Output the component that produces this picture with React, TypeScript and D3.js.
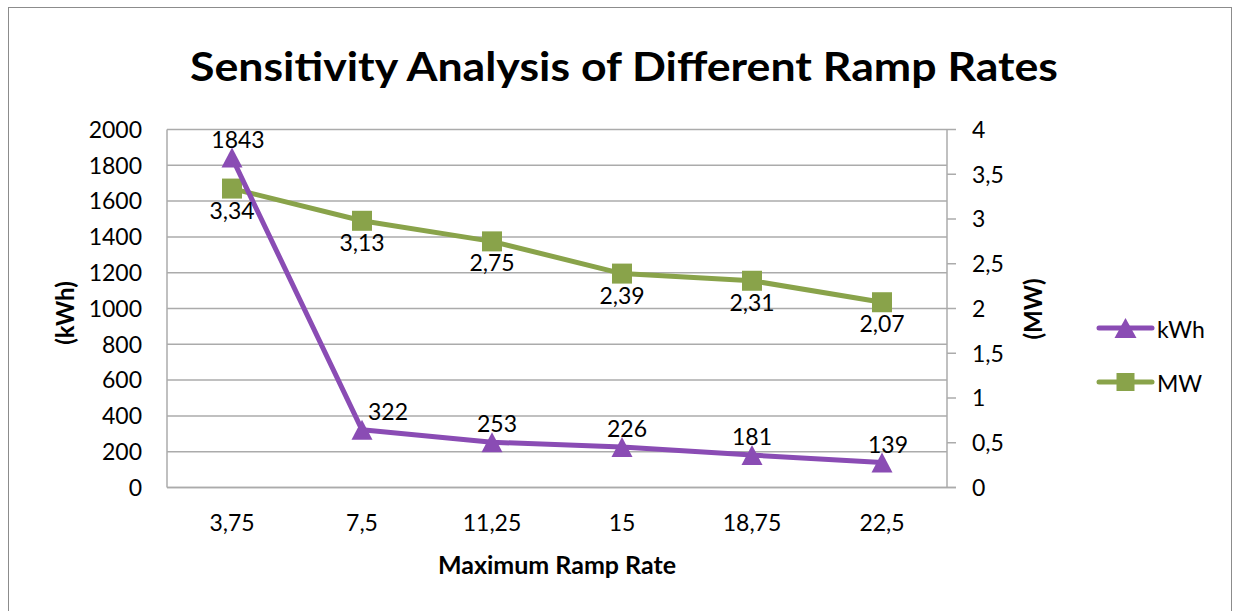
import React from "react";
import * as d3 from "d3";

const categories = ["3,75", "7,5", "11,25", "15", "18,75", "22,5"];
const kwhValues = [1843, 322, 253, 226, 181, 139];
const kwhLabels = ["1843", "322", "253", "226", "181", "139"];
const mwValues = [3.34, 2.98, 2.75, 2.39, 2.31, 2.07];
const mwLabels = ["3,34", "3,13", "2,75", "2,39", "2,31", "2,07"];
const leftTicks = [0, 200, 400, 600, 800, 1000, 1200, 1400, 1600, 1800, 2000];
const rightTicks = [0, 0.5, 1, 1.5, 2, 2.5, 3, 3.5, 4];
const kwhLabelDx = [6, 26, 5, 5, 0, 6];

const PURPLE = "#8a4cb4";
const GREEN = "#89a34a";
const GRID = "#ababab";
const FONT = "Lato, 'Open Sans', sans-serif";

export default function App() {
  const W = 1239;
  const H = 611;
  const left = 167;
  const right = 947;
  const top = 129.5;
  const bottom = 487.5;

  const x = d3.scaleBand<string>().domain(categories).range([left, right]);
  const cx = (c: string) => (x(c) as number) + x.bandwidth() / 2;
  const yL = d3.scaleLinear().domain([0, 2000]).range([bottom, top]);
  const yR = d3.scaleLinear().domain([0, 4]).range([bottom, top]);
  const fmt = (v: number) => String(v).replace(".", ",");

  const kwhLine = d3
    .line<number>()
    .x((_, i) => cx(categories[i]))
    .y((d) => yL(d))(kwhValues) as string;
  const mwLine = d3
    .line<number>()
    .x((_, i) => cx(categories[i]))
    .y((d) => yR(d))(mwValues) as string;

  const tri = (px: number, py: number, s = 10.5) =>
    `M${px},${py - 10}L${px + s},${py + 10}L${px - s},${py + 10}Z`;

  return (
    <svg
      width={W}
      height={H}
      style={{ position: "absolute", left: 0, top: 0, background: "#fff" }}
      fontFamily={FONT}
    >
      <rect x={8.5} y={7.5} width={1223} height={640} fill="#fff" stroke="#8c8c8c" strokeWidth={1} />
      <text
        x={624}
        y={81}
        textAnchor="middle"
        fontSize={41}
        fontWeight="bold"
        fill="#000"
        textLength={868}
        lengthAdjust="spacingAndGlyphs"
      >
        Sensitivity Analysis of Different Ramp Rates
      </text>

      {/* gridlines */}
      {leftTicks.map((t) => (
        <line key={"g" + t} x1={left} x2={right} y1={yL(t)} y2={yL(t)} stroke={GRID} strokeWidth={1.5} />
      ))}
      {/* axes */}
      <line x1={left} x2={left} y1={top} y2={bottom} stroke={GRID} strokeWidth={1.5} />
      <line x1={left} x2={right + 9} y1={bottom} y2={bottom} stroke={GRID} strokeWidth={1.5} />
      <line x1={right} x2={right} y1={top} y2={bottom} stroke={GRID} strokeWidth={1.5} />
      {rightTicks.map((t) => (
        <line key={"rt" + t} x1={right} x2={right + 9} y1={yR(t)} y2={yR(t)} stroke={GRID} strokeWidth={1.5} />
      ))}

      {/* tick labels */}
      {leftTicks.map((t) => (
        <text key={"lt" + t} x={142} y={yL(t)} dy="0.36em" textAnchor="end" fontSize={23} fill="#000">
          {t}
        </text>
      ))}
      {rightTicks.map((t) => (
        <text key={"rl" + t} x={972} y={yR(t)} dy="0.36em" textAnchor="start" fontSize={23} fill="#000">
          {fmt(t)}
        </text>
      ))}
      {categories.map((c) => (
        <text key={"xt" + c} x={cx(c)} y={531} textAnchor="middle" fontSize={23} fill="#000">
          {c}
        </text>
      ))}

      {/* axis titles */}
      <text x={557} y={574} textAnchor="middle" fontSize={24} fontWeight="bold" fill="#000" textLength={238} lengthAdjust="spacingAndGlyphs">
        Maximum Ramp Rate
      </text>
      <text transform="translate(74,313) rotate(-90)" textAnchor="middle" fontSize={24} fontWeight="bold" fill="#000">
        (kWh)
      </text>
      <text transform="translate(1042,309) rotate(-90)" textAnchor="middle" fontSize={24} fontWeight="bold" fill="#000">
        (MW)
      </text>

      {/* MW series */}
      <path d={mwLine} fill="none" stroke={GREEN} strokeWidth={5} strokeLinejoin="round" strokeLinecap="round" />
      {mwValues.map((v, i) => (
        <rect key={"sq" + i} x={cx(categories[i]) - 10} y={yR(v) - 10} width={20} height={20} fill={GREEN} />
      ))}

      {/* kWh series */}
      <path d={kwhLine} fill="none" stroke={PURPLE} strokeWidth={5} strokeLinejoin="round" strokeLinecap="round" />
      {kwhValues.map((v, i) => (
        <path key={"tr" + i} d={tri(cx(categories[i]), yL(v))} fill={PURPLE} />
      ))}

      {/* data labels */}
      {kwhValues.map((v, i) => (
        <text key={"kl" + i} x={cx(categories[i]) + kwhLabelDx[i]} y={yL(v) - 10} textAnchor="middle" fontSize={23} fill="#000">
          {kwhLabels[i]}
        </text>
      ))}
      {mwValues.map((v, i) => (
        <text key={"ml" + i} x={cx(categories[i])} y={yR(v) + 30} textAnchor="middle" fontSize={23} fill="#000">
          {mwLabels[i]}
        </text>
      ))}

      {/* legend */}
      <line x1={1099} x2={1152} y1={328} y2={328} stroke={PURPLE} strokeWidth={5} strokeLinecap="round" />
      <path d={tri(1125.5, 328, 11)} fill={PURPLE} />
      <text x={1157} y={338} fontSize={23} fill="#000">kWh</text>
      <line x1={1099} x2={1152} y1={382} y2={382} stroke={GREEN} strokeWidth={5} strokeLinecap="round" />
      <rect x={1116.5} y={373} width={18} height={18} fill={GREEN} />
      <text x={1157} y={392} fontSize={23} fill="#000">MW</text>
    </svg>
  );
}
